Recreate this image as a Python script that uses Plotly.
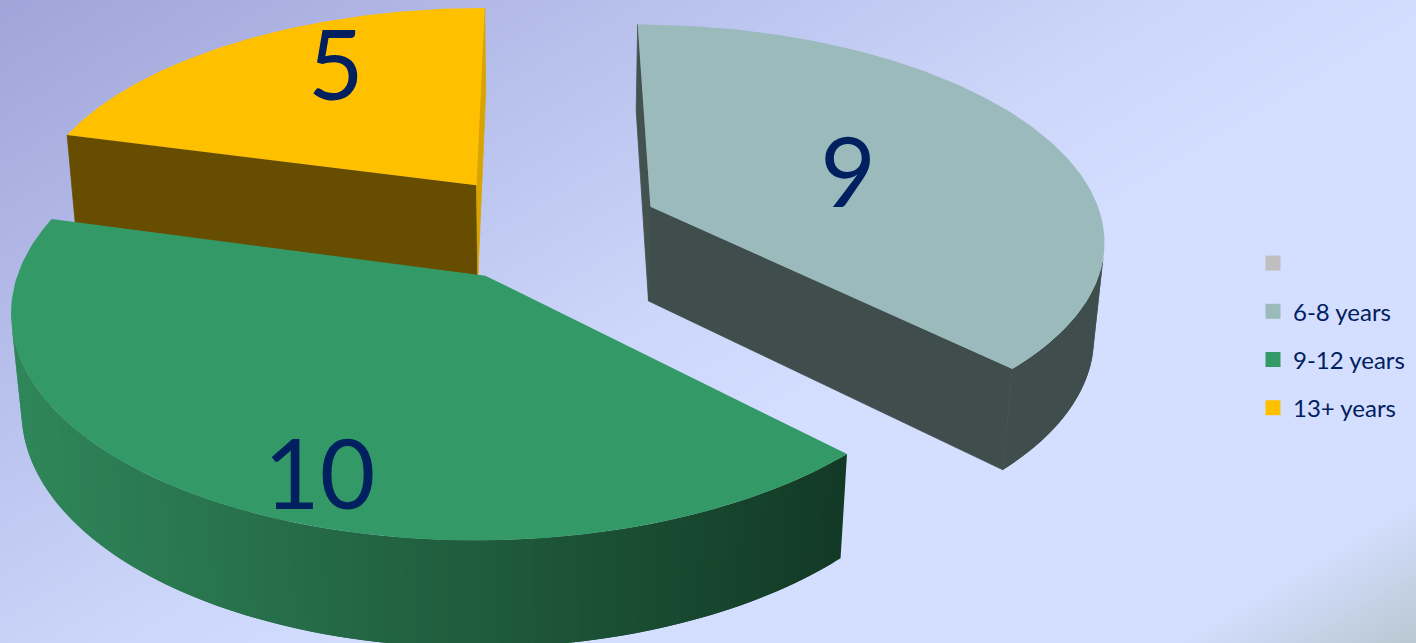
import numpy as np
import plotly.graph_objects as go

# Chart data
categories = ["6-8 years", "9-12 years", "13+ years"]
values = [9, 10, 5]
legend_blank_name = " "

# Slice styling
top_colors = ["#9ababb", "#339966", "#ffc000"]
legend_colors = ["#9ababb", "#339966", "#ffc000"]
blank_color = "#bfbfbf"
rim_left = ["#3f4e4c", "#2f8659", "#664d00"]
rim_right = ["#3f4e4c", "#133a26", "#664d00"]
start_wall = ["#43524f", "#133a26", "#664d00"]
end_wall = ["#3f4e4c", "#133a26", "#d9a300"]
label_color = "#002060"
label_polar = [(0.49, 1.6), (0.83, -8.8), (0.75, 8.7)]  # radius fraction, degrees off the slice centre
LABEL_DROP = 12

# Pie geometry in world units, viewed through a pinhole camera
PIE_CENTRE = (0.0, 0.16)
EXPLODE = 0.255
THICKNESS = 0.245
X_STRETCH = 1.01
TILT = np.radians(29)
CAM_DIST = 6.13
FOCAL = 2816
PX, PY = 545, 262
W, H = 1416, 643


def project(x, y, z):
    s, c = np.sin(TILT), np.cos(TILT)
    depth = CAM_DIST + y * c - z * s
    return PX + X_STRETCH * FOCAL * x / depth, PY - FOCAL * (y * s + z * c) / depth


def mix(a, b, t):
    pa = np.array([int(a[i:i + 2], 16) for i in (1, 3, 5)])
    pb = np.array([int(b[i:i + 2], 16) for i in (1, 3, 5)])
    r = (pa + (pb - pa) * t).round().astype(int)
    return "rgb(%d,%d,%d)" % tuple(r)


def poly(xs, ys, color, stroke=0):
    return go.Scatter(
        x=list(xs), y=list(ys), mode="lines", fill="toself", fillcolor=color,
        line=dict(color=color, width=stroke), hoverinfo="skip", showlegend=False,
    )


def signed_area(xs, ys):
    xs, ys = np.asarray(xs), np.asarray(ys)
    return np.sum(xs * np.roll(ys, -1) - np.roll(xs, -1) * ys)


fig = go.Figure()

# Page background: diagonal gradient with a darker bottom-right corner
bg_x = np.array([0, W / 2, W])
bg_y = np.array([0, H / 2, H])
bg_z = 0.6 * bg_x[None, :] + bg_y[:, None]
bg_stops = [(0, "#9fa5d8"), (310, "#b3bae8"), (460, "#bcc5ef"), (700, "#ccd6f9"),
            (900, "#d4deff"), (1345, "#d4deff"), (1493, "#b8c8d1")]
bg_top = 1493
fig.add_trace(go.Heatmap(
    x=bg_x, y=bg_y, z=bg_z, zmin=0, zmax=bg_top, zsmooth="best", showscale=False,
    hoverinfo="skip", colorscale=[[v / bg_top, col] for v, col in bg_stops],
))

# Slice angles run clockwise from twelve o'clock
total = sum(values)
edges = np.cumsum([0] + values) / total * 2 * np.pi
label_x, label_y = [], []
slices = {}
for i in range(len(values)):
    a0, a1 = edges[i], edges[i + 1]
    mid = (a0 + a1) / 2
    ox = PIE_CENTRE[0] + EXPLODE * np.sin(mid)
    oy = PIE_CENTRE[1] + EXPLODE * np.cos(mid)
    slices[i] = (a0, a1, ox, oy)
    frac, off = label_polar[i]
    la = mid + np.radians(off)
    lx, ly = project(ox + frac * np.sin(la), oy + frac * np.cos(la), 0)
    label_x.append(lx)
    label_y.append(ly + LABEL_DROP)

# Paint far slices first so the nearer ones overlap them
for i in (2, 0, 1):
    a0, a1, ox, oy = slices[i]
    apex_t = project(ox, oy, 0)
    apex_b = project(ox, oy, -THICKNESS)

    # Outer rim as overlapping bands, shaded by horizontal position
    steps = 120
    angs = np.linspace(a0, a1, steps + 1)
    visible = []
    for b0, b1 in zip(angs[:-1], angs[1:]):
        x0, y0 = project(ox + np.sin(b0), oy + np.cos(b0), 0)
        x1, y1 = project(ox + np.sin(b1), oy + np.cos(b1), 0)
        x2, y2 = project(ox + np.sin(b1), oy + np.cos(b1), -THICKNESS)
        x3, y3 = project(ox + np.sin(b0), oy + np.cos(b0), -THICKNESS)
        if signed_area([x0, x1, x2, x3], [y0, y1, y2, y3]) < 0:
            visible.append((b0, b1))
    if visible:
        step = angs[1] - angs[0]
        end = visible[-1][1]
        for b0, b1 in visible:
            b2 = min(b1 + step, end)
            sweep = np.linspace(b0, b2, 4)
            tx, ty = project(ox + np.sin(sweep), oy + np.cos(sweep), 0)
            bx, by = project(ox + np.sin(sweep[::-1]), oy + np.cos(sweep[::-1]), -THICKNESS)
            t = np.clip((project(ox + np.sin(b0), oy + np.cos(b0), 0)[0] - 20) / 825, 0, 1)
            fig.add_trace(poly([*tx, *bx, tx[0]], [*ty, *by, ty[0]],
                               mix(rim_left[i], rim_right[i], t)))

    # Radial walls, only where they face the viewer; the stroke closes the joint with the rim
    for ang, col, sign in ((a0, start_wall[i], -1), (a1, end_wall[i], 1)):
        rx, ry = ox + np.sin(ang), oy + np.cos(ang)
        tx, ty = project(rx, ry, 0)
        bx, by = project(rx, ry, -THICKNESS)
        xs, ys = [apex_t[0], tx, bx, apex_b[0]], [apex_t[1], ty, by, apex_b[1]]
        if signed_area(xs, ys) * sign > 0:
            fig.add_trace(poly(xs + xs[:1], ys + ys[:1], col, stroke=0.8))

    # Top face
    arc = np.linspace(a0, a1, 160)
    tx, ty = project(ox + np.sin(arc), oy + np.cos(arc), 0)
    fig.add_trace(poly([apex_t[0], *tx, apex_t[0]], [apex_t[1], *ty, apex_t[1]], top_colors[i]))

# Value labels
fig.add_trace(go.Scatter(
    x=label_x, y=label_y, mode="text", text=[str(v) for v in values],
    textposition="middle center", hoverinfo="skip", showlegend=False, cliponaxis=False,
    textfont=dict(family="Lato", size=96, color=label_color),
))

# Legend entries, the first one has a blank name
for name, col in zip([legend_blank_name] + categories, [blank_color] + legend_colors):
    fig.add_trace(go.Scatter(
        x=[None], y=[None], mode="markers", name=name, legendgroup=name,
        marker=dict(symbol="square", size=15, color=col),
    ))

fig.update_layout(
    width=W, height=H, margin=dict(l=0, r=0, t=0, b=0),
    paper_bgcolor="#d4deff", plot_bgcolor="#d4deff",
    xaxis=dict(range=[0, W], visible=False, fixedrange=True),
    yaxis=dict(range=[H, 0], visible=False, fixedrange=True),
    legend=dict(
        x=1253 / W, y=1 - 241 / H, xanchor="left", yanchor="top",
        bgcolor="rgba(0,0,0,0)", tracegroupgap=14, itemsizing="trace",
        font=dict(family="Lato", size=24, color=label_color),
    ),
)
fig.write_html("out.html")
